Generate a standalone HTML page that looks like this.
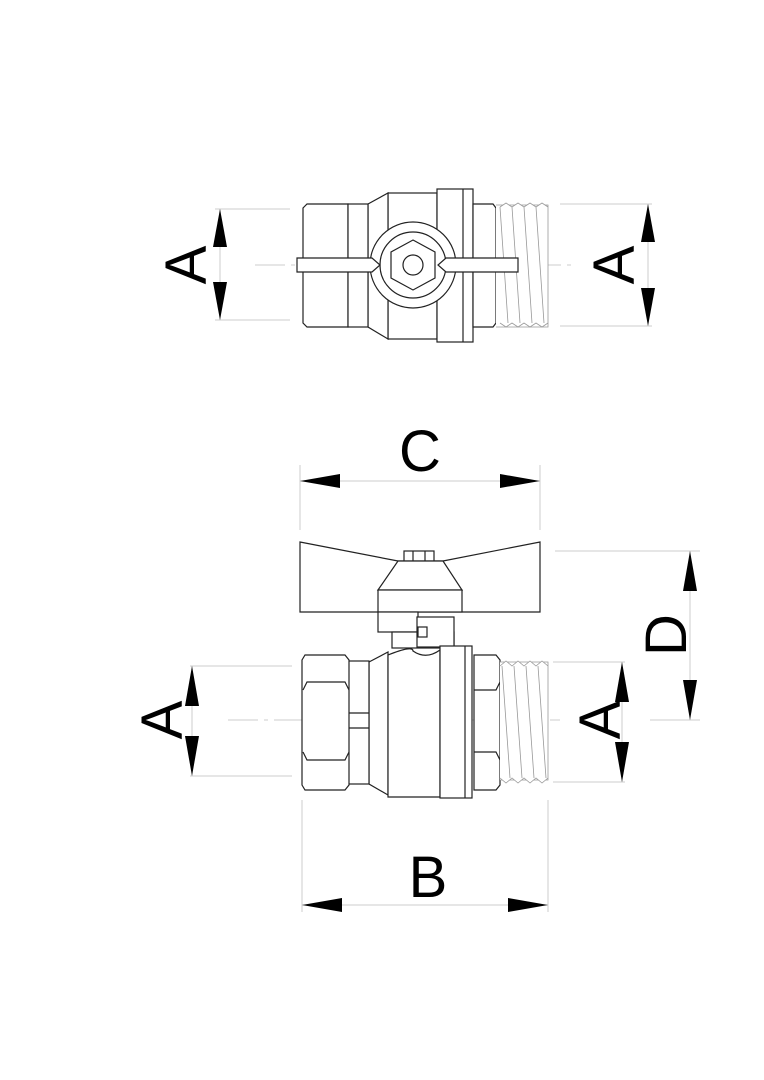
<!DOCTYPE html>
<html><head><style>body{margin:0;background:#fff}svg{display:block}</style></head><body>
<svg width="764" height="1080" viewBox="0 0 764 1080" xmlns="http://www.w3.org/2000/svg" font-family="Liberation Sans, Arial, sans-serif">
<rect width="764" height="1080" fill="#fff"/>
<g stroke="#ccc" stroke-width="1" fill="none">
<line x1="215" y1="209" x2="290" y2="209"/><line x1="215" y1="320" x2="290" y2="320"/>
<line x1="560" y1="204" x2="652" y2="204"/><line x1="560" y1="326" x2="652" y2="326"/>
<line x1="255" y1="265" x2="575" y2="265" stroke-dasharray="30 6 4 6"/>
<line x1="300" y1="465" x2="300" y2="530"/><line x1="540" y1="465" x2="540" y2="530"/>
<line x1="555" y1="551" x2="700" y2="551"/>
<line x1="650" y1="720" x2="700" y2="720"/>
<line x1="190" y1="666" x2="292" y2="666"/><line x1="190" y1="776" x2="292" y2="776"/>
<line x1="553" y1="662" x2="625" y2="662"/><line x1="553" y1="782" x2="625" y2="782"/>
<line x1="228" y1="720" x2="560" y2="720" stroke-dasharray="30 6 4 6"/>
<line x1="302" y1="800" x2="302" y2="912"/><line x1="548" y1="800" x2="548" y2="912"/>
<line x1="300" y1="481" x2="540" y2="481"/><line x1="690" y1="551" x2="690" y2="720"/>
<line x1="302" y1="905" x2="548" y2="905"/>
<line x1="192" y1="666" x2="192" y2="776"/><line x1="622" y1="662" x2="622" y2="782"/>
<line x1="220" y1="209" x2="220" y2="320"/><line x1="648" y1="204" x2="648" y2="326"/>
</g>
<g fill="#000">
<polygon points="220,209 213,247 227,247"/><polygon points="220,320 213,282 227,282"/>
<polygon points="648,204 641,242 655,242"/><polygon points="648,326 641,288 655,288"/>
<polygon points="300,481 340,474 340,488"/><polygon points="540,481 500,474 500,488"/>
<polygon points="690,551 683,591 697,591"/><polygon points="690,720 683,680 697,680"/>
<polygon points="192,666 185,706 199,706"/><polygon points="192,776 185,736 199,736"/>
<polygon points="622,662 615,702 629,702"/><polygon points="622,782 615,742 629,742"/>
<polygon points="302,905 342,898 342,912"/><polygon points="548,905 508,898 508,912"/>
</g>
<g font-size="58" fill="#000" text-anchor="middle">
<text x="420" y="471">C</text>
<text x="428" y="897">B</text>
<text transform="translate(206,265) rotate(-90)">A</text>
<text transform="translate(634,265) rotate(-90)">A</text>
<text transform="translate(182,720) rotate(-90)">A</text>
<text transform="translate(620,720) rotate(-90)">A</text>
<text transform="translate(686,635) rotate(-90)">D</text>
</g>
<g stroke="#222" stroke-width="1.2" fill="#fff">
<rect x="388" y="193" width="49" height="146"/>
<polygon points="368,204 388,193 388,339 368,327"/>
<path d="M303,208 l4,-4 h41 v123 h-41 l-4,-4 z"/>
<rect x="348" y="204" width="20" height="123"/>
<rect x="437" y="189" width="36" height="153"/><line x1="463" y1="189" x2="463" y2="342"/>
<path d="M473,204 h20 l3,4 v115 l-3,4 h-20 z"/>
<g stroke="#999" stroke-width="0.8"><path d="M496,205 h52 v122 h-52"/>
<path d="M500,207 l8,116 M512,207 l8,116 M524,207 l8,116 M536,207 l8,116 M500,207 l6,-4 6,4 6,-4 6,4 6,-4 6,4 6,-4 6,4 M500,323 l6,4 6,-4 6,4 6,-4 6,4 6,-4 6,4 6,-4"/></g>
<circle cx="413" cy="265" r="43"/><circle cx="413" cy="265" r="33"/>
<path d="M297,258 h75 l8,7 -8,7 h-75 z"/><path d="M518,258 h-72 l-8,7 8,7 h72 z"/>
<polygon points="413,240 435,252 435,278 413,290 391,278 391,252"/>
<circle cx="413" cy="265" r="10"/>
<polygon points="300,542 398,561 443,561 540,542 540,612 300,612"/>
<rect x="404" y="551" width="30" height="10"/>
<line x1="413" y1="551" x2="413" y2="561"/><line x1="425" y1="551" x2="425" y2="561"/>
<polygon points="378,590 398,561 443,561 462,590"/>
<rect x="378" y="590" width="84" height="22"/>
<rect x="378" y="612" width="40" height="20"/>
<rect x="392" y="632" width="62" height="16"/>
<rect x="417" y="617" width="37" height="30"/>
<rect x="418" y="627" width="9" height="10"/>
<polygon points="369,662 388,652 388,795 369,784"/>
<path d="M388,655 Q413,645 413,651 Q426,660 440,650 V797 H388 Z"/>
<rect x="440" y="646" width="32" height="152"/><line x1="465" y1="646" x2="465" y2="798"/>
<rect x="348" y="661" width="21" height="123"/>
<line x1="348" y1="713" x2="369" y2="713"/><line x1="348" y1="728" x2="369" y2="728"/>
<path d="M305,655 h40 l4,5 v125 l-4,5 h-40 l-3,-5 v-125 z"/>
<path d="M303,690 l4,-8 h38 l4,8 M303,752 l4,8 h38 l4,-8"/>
<path d="M474,655 h22 l4,5 v125 l-4,5 h-22 z"/>
<path d="M474,690 h22 l4,-8 M474,752 h22 l4,8"/>
<g stroke="#999" stroke-width="0.8"><path d="M500,662 h48 v118 h-48"/>
<path d="M502,666 l8,112 M514,666 l8,112 M526,666 l8,112 M538,666 l8,112 M500,666 l6,-5 6,5 6,-5 6,5 6,-5 6,5 6,-5 6,5 M500,778 l6,5 6,-5 6,5 6,-5 6,5 6,-5 6,5 6,-5"/></g>
</g>
</svg>
</body></html>
